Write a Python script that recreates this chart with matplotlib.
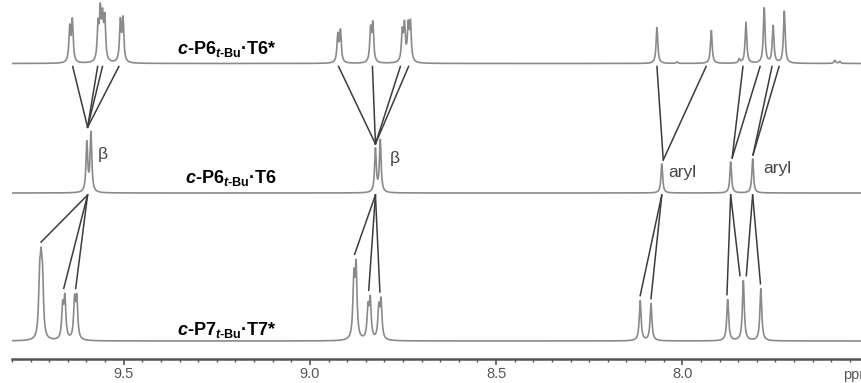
import numpy as np
import matplotlib.pyplot as plt

plt.rcParams['font.family'] = 'Liberation Sans'
plt.rcParams['mathtext.fontset'] = 'custom'
plt.rcParams['mathtext.rm'] = 'Liberation Sans:bold'
plt.rcParams['mathtext.it'] = 'Liberation Sans:italic:bold'
plt.rcParams['mathtext.bf'] = 'Liberation Sans:bold'

# peak lists (ppm, relative height)
top_ppm = [9.645, 9.638, 9.569, 9.563, 9.557, 9.551, 9.509, 9.502,
           8.925, 8.918, 8.837, 8.831, 8.752, 8.746, 8.736, 8.730,
           8.068, 8.014, 7.922, 7.847, 7.829, 7.780, 7.756, 7.726, 7.590, 7.577]
top_h = [34, 41, 34, 46, 39, 41, 40, 42,
         27, 31, 32, 37, 29, 35, 34, 37,
         36, 1.5, 33, 4, 41, 55, 37, 52, 3, 2]

mid_ppm = [9.599, 9.588, 8.824, 8.811, 8.055, 7.870, 7.811]
mid_h = [49, 59, 43, 52, 29, 31, 34]

bot_ppm = [9.726, 9.722, 9.718, 9.664, 9.658, 9.632, 9.626,
           8.882, 8.876, 8.844, 8.838, 8.815, 8.809,
           8.113, 8.084, 7.878, 7.836, 7.789]
bot_h = [52, 57, 50, 32, 40, 38, 39,
         58, 69, 30, 38, 30, 37,
         40, 37, 41, 60, 52]

# correlation lines (from ppm, to ppm)
top_to_mid = [(9.637, 9.597), (9.570, 9.597), (9.557, 9.597), (9.513, 9.597),
              (8.923, 8.824), (8.832, 8.824), (8.757, 8.824), (8.735, 8.824),
              (8.068, 8.051), (7.936, 8.051), (7.837, 7.866), (7.791, 7.866),
              (7.759, 7.810), (7.740, 7.810)]
mid_to_bot = [(9.597, 9.722), (9.597, 9.661), (9.597, 9.629),
              (8.824, 8.880), (8.824, 8.842), (8.824, 8.812),
              (8.055, 8.113), (8.055, 8.084), (7.870, 7.880), (7.870, 7.845),
              (7.811, 7.828), (7.811, 7.790)]

xticks = [9.5, 9.0, 8.5, 8.0]


def px2ppm(x):
    return 9.5 - (x - 123.3) / 372.7


def spectrum(x, ppm, h, w):
    y = np.zeros_like(x)
    for p, a in zip(ppm, h):
        y += a * w**2 / ((x - p)**2 + w**2)
    return y


x = np.linspace(9.80, 7.52, 8000)
base_top, base_mid, base_bot = 295.5, 166, 18

fig = plt.figure(figsize=(8.61, 3.83), dpi=100)
ax = fig.add_axes([12 / 861, 24 / 383, 849 / 861, 359 / 383])

y_top = spectrum(x, top_ppm, top_h, 0.0027)
y_mid = spectrum(x, mid_ppm, mid_h, 0.0027)
y_bot = spectrum(x, bot_ppm, bot_h, 0.003)

col = '#8a8a8a'
ax.plot(x, base_top + y_top, color=col, lw=1.2)
ax.plot(x, base_mid + y_mid, color=col, lw=1.2)
ax.plot(x, base_bot + y_bot, color=col, lw=1.2)


def local_max(y, p):
    m = np.abs(x - p) < 0.01
    return y[m].max()


lc = '#3c3c3c'
for a, b in top_to_mid:
    ax.plot([a, b], [base_top - 3, base_mid + local_max(y_mid, b) + 4],
            color=lc, lw=1.1)
for a, b in mid_to_bot:
    ax.plot([a, b], [base_mid - 2, base_bot + local_max(y_bot, b) + 5],
            color=lc, lw=1.1)

# compound labels
lab_kw = dict(fontsize=13, fontweight='bold', ha='left', va='baseline')
ax.text(px2ppm(177), 359 - 54, r'$\mathit{c}$-P6$_{\mathit{t}\mathrm{\text{-}Bu}}$·T6*', **lab_kw)
ax.text(px2ppm(185), 359 - 183, r'$\mathit{c}$-P6$_{\mathit{t}\mathrm{\text{-}Bu}}$·T6', **lab_kw)
ax.text(px2ppm(177), 359 - 335, r'$\mathit{c}$-P7$_{\mathit{t}\mathrm{\text{-}Bu}}$·T7*', **lab_kw)

ann_kw = dict(fontsize=12.5, color='#444444', ha='left', va='center')
ax.text(px2ppm(97), 359 - 154, 'β', **ann_kw)
ax.text(px2ppm(390), 359 - 159, 'β', **ann_kw)
ax.text(px2ppm(668), 359 - 172, 'aryl', **ann_kw)
ax.text(px2ppm(763), 359 - 169, 'aryl', **ann_kw)

ax.set_xlim(9.80, 7.52)
ax.set_ylim(0, 359)
for s in ['top', 'left', 'right']:
    ax.spines[s].set_visible(False)
ax.spines['bottom'].set_color('#555555')
ax.spines['bottom'].set_linewidth(1.8)
ax.set_yticks([])
ax.set_xticks(xticks)
ax.set_xticklabels([f'{t:.1f}' for t in xticks])
ax.set_xticks(np.arange(7.55, 9.80, 0.05), minor=True)
ax.tick_params(axis='x', which='major', direction='out', length=4.5, width=1.2,
               color='#555555', labelsize=10.5, labelcolor='#555555', pad=1.5)
ax.tick_params(axis='x', which='minor', direction='out', length=2.2, width=1.0,
               color='#555555')
ax.text(px2ppm(843), -9, 'ppm', fontsize=10.5, color='#555555',
        ha='left', va='top', clip_on=False)

fig.savefig('out.png', dpi=100)
